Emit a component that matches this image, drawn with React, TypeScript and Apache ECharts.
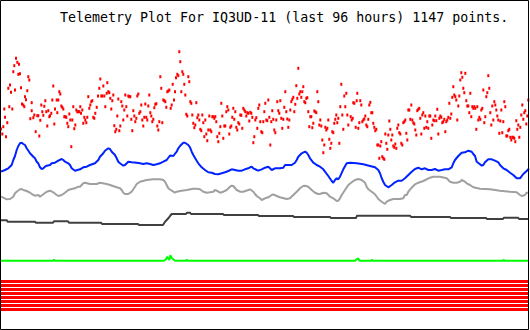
import React, { useEffect, useRef } from "react";
import * as echarts from "echarts";

const TITLE = "Telemetry Plot For IQ3UD-11 (last 96 hours) 1147 points.";

// x: sample position along the 96-hour window (plot units), y: plot units (inverted axis)
const redDots: [number, number][] = [
  [1,129],[2.3,134],[3.3,126.7],[4.3,109],[5,117.3],[6,136.7],[7.3,122.7],[8.3,88.3],[9.3,106.7],[10,85],[11,92.3],[12.3,109],[13.3,71.7],[14.3,65.7],[15,90],[16,58.3],[17.3,62.3],[18.3,74.3],[19,64.3],[20,73.7],
  [21,87.7],[22,104],[23.3,105],[24.3,106.7],[25,96.7],[26,99.7],[27.3,90.7],[28.3,76.7],[29.3,80],[30.3,118.7],[31.7,102.7],[31.7,110.7],[33.3,117.7],[34.3,115],[35.7,131.7],[37.3,115.7],[38.3,115.7],[39.3,136],[40.3,120.3],[41.3,105],
  [42.3,111.7],[43.3,115.3],[44.3,106.3],[45.3,100.7],[46.3,111.7],[47.3,126],[48.3,110.7],[49.3,116.7],[50,115.7],[51.3,113.3],[52.3,100],[53.3,86],[54.3,124],[55,109],[56.7,100],[57.3,112.7],[58.3,100],[59.3,91.7],[60.3,94],[61.3,106],
  [62.3,107.3],[63.3,109],[64.3,116.7],[65.3,116.7],[66.3,117.3],[67.3,123.3],[68.3,126.7],[69.3,114],[70.3,120],[71.3,146.7],[72.3,120],[73.3,106.7],[74.3,128.7],[75.3,125],[76.3,110],[77.3,111.7],[78.3,111.7],[79.3,111.7],[80.3,106.7],[81,113.3],
  [82.3,110],[83.3,123.3],[84.3,117.3],[85.3,120],[86.3,122.7],[87.3,117.3],[88.3,96.7],[89.3,108.3],[90.3,105],[91.3,101.7],[92.3,100.7],[93.3,117.3],[94.3,118.3],[95.3,113.3],[96.7,107.3],[98,96],[99.3,88.3],[100.3,79],[101.3,96],[102.3,96],
  [103.3,86],[104.3,96],[105.3,106.7],[106.7,93.3],[107.3,82.7],[108.3,91.7],[109.3,92.7],[110.3,98.3],[111.3,109],[112.3,100.7],[113.3,95],[114.3,125.7],[115.3,131.7],[116.3,129.3],[117.3,116],[118.3,99],[119.3,130.7],[120.3,126],[121.3,101.7],[122.3,106],
  [123.3,120],[124.3,110],[125.3,95],[126.3,106.7],[127.3,116],[128.3,96],[129.3,96.7],[130.3,96.7],[131.3,119.3],[132.3,130.7],[133.3,110.7],[134.3,116],[135.3,121.7],[136.3,118.3],[137.3,96],[138.3,94],[139.3,113.3],[140.3,111.7],[141.3,105],[142.3,120],
  [143.3,126],[144.3,117.3],[145.3,104],[146.3,117.3],[147.3,120],[148.3,106],[149.3,95],[150.3,112.7],[151.3,116],[152.3,121.7],[153.3,119.3],[154.3,107.7],[155.3,104.3],[156.3,103.7],[157.3,126],[158.3,130],[159.3,121.7],[160.3,76.7],[161.3,88.3],[162.3,122.7],
  [163.3,100],[164.3,100.7],[165.3,101.7],[166.3,107.3],[167.3,91.7],[168.3,91],[169.3,90],[170.7,108.3],[171.7,105],[172.7,84.3],[174,100],[175,91.7],[176,77.7],[177.3,74.3],[178.3,75.7],[179.3,51.7],[180.3,61.7],[181.3,91.7],[182.3,71.7],[183.3,74.3],
  [184.3,84.3],[185.3,95],[186.3,114.3],[187.3,116],[188.3,76.7],[189.3,81.7],[190.3,101.7],[191.3,103.3],[192.3,115],[193.3,123.3],[194.3,127.7],[195.3,125],[196.3,102.7],[197.3,117.7],[198.3,115],[199.3,120],[200.3,129.3],[201.3,130.7],[202.3,115],[203.3,122.7],
  [204.3,136.7],[205.3,120],[206.3,134],[207.3,140.7],[208.3,130],[209.3,116],[210.3,130],[211.3,131.7],[212.3,116.7],[213.3,116.7],[214.3,118.3],[215.3,116.7],[216.3,121.7],[217.3,136.7],[218.3,141.7],[219.3,133.3],[220.3,126.7],[221.3,103.3],[222.3,116],[223.3,138.3],
  [224.3,126],[225.3,126],[226.3,111.7],[227.3,106.7],[228.3,110],[229.3,134],[230.3,127.3],[231.3,126],[232.3,117.3],[233.3,108.3],[234.3,119.3],[235.3,111.7],[236.3,127.3],[237.3,130],[238.3,122.7],[239.3,124],[240.3,115],[241.3,115.3],[242.3,128.3],[243.3,108.3],
  [244.3,110],[245.3,111.7],[246.3,116],[247.3,112.7],[248.3,113.3],[249.3,121],[250.3,112.3],[251.3,113.3],[252.3,117.3],[253.3,142.7],[254.3,136.7],[255.3,120],[256.3,117.7],[257.3,128.3],[258.3,108.3],[259.3,105],[260.3,121.7],[261.3,131.7],[262.3,132.7],[263.3,121.7],
  [264.3,111.7],[265.3,103.3],[266.3,120],[267.3,120.7],[268.3,100],[269.3,117.3],[270.3,145],[271.3,121.7],[272.3,110.7],[273.3,119.3],[274.3,130],[275.3,132.7],[276.3,120],[277.3,101.7],[278.3,110.7],[279.3,113.3],[280.3,100.7],[281.3,118.3],[282.3,128.3],[283.3,119.3],
  [284.3,107.3],[285.3,91.7],[286.3,111.7],[287.3,119],[288.3,127.3],[289.3,120],[290.3,110],[291.3,101.7],[292.3,99.3],[293.3,97.3],[294.3,111.7],[295.3,104.3],[296.3,85.7],[297.3,98.3],[298.3,68.3],[299.3,94],[300.3,91.7],[301.3,97.3],[302.3,91.7],[303.3,86.7],
  [304.3,101.7],[305.3,102.7],[306.3,98.3],[307.3,97.7],[308.3,111.7],[309.3,126.7],[310.3,116.7],[311.3,116.7],[312.3,127.7],[313.3,123.3],[314.3,111],[315.3,111.7],[316.3,112.7],[317.3,91.7],[318.3,101.7],[319.3,125],[320.3,120],[321.3,126],[322.3,140],[323.3,152.7],
  [324.3,145],[325.3,127.3],[326.3,130],[327.3,128.3],[328.3,120],[329.3,139.3],[330.3,148.3],[331.3,143.3],[332.3,131.7],[333.3,132.7],[334.3,123.3],[335.3,119.3],[336.3,115],[337.3,122.7],[338.3,118.3],[339.3,143.3],[340.3,106.7],[341.3,84.3],[342.3,115],[343.3,129.3],
  [344.3,96],[345.3,106.7],[346.3,93.3],[347.3,115],[348.3,125],[350.7,116.7],[351.7,120],[352.7,118.3],[353.3,102.7],[354.3,103.3],[355.7,127.3],[356.7,100.7],[357.3,93.3],[358.3,128.3],[359.3,122.7],[360.3,100.7],[361.3,105],[362.3,121.7],[363.3,120],[364.3,119],
  [365.3,116],[366.3,125],[367.3,126.7],[368.3,119.3],[369.3,105],[370.3,102.3],[371.3,112.7],[372.3,112.7],[373.3,123.3],[374.3,127.3],[375.3,130.7],[376.3,129.3],[377.3,145],[378.3,145],[379.3,158.3],[380.3,146],[381.3,141.7],[382.3,156.7],[383.3,158.3],[384.3,159.3],
  [385.3,134],[386.3,143.3],[387.3,149.3],[388.3,135],[389.3,121],[390.3,129.3],[391.3,140],[392.3,135],[393.3,146],[394.3,147.3],[395.3,144],[396.3,148.3],[397.3,128.3],[398.3,125],[399.3,132.7],[400.3,134],[401.3,143.3],[402.3,145],[403.3,122.7],[404.3,121.7],
  [405.3,120],[406.3,133.3],[407.3,140],[408.3,110],[409.3,110],[410.3,119.3],[411.3,105],[412.3,120],[413.3,122.7],[414.3,124],[415.3,130],[416.3,135],[417.3,110.7],[418.3,109.3],[419.3,108.3],[420.3,118.3],[421.3,134],[422.3,115],[423.3,112.7],[424.3,128.3],
  [425.3,116],[426.3,127.3],[427.3,121.7],[428.3,128.3],[429.3,116],[430.3,116],[431.3,138.3],[432.3,125],[433.3,120],[434.3,120.7],[435.3,116],[436.3,120.7],[437.3,109.3],[438.3,134],[439.3,118.3],[440.3,116],[441.3,117.3],[442.3,122.7],[443.3,121.7],[444.3,119.3],
  [445.3,131.7],[446.3,121.7],[447.3,120],[448.3,117.3],[449.3,103.3],[450.3,118.3],[451.3,114],[452.3,97.3],[453.3,86.7],[454.3,95],[455.3,96.7],[456.3,100],[457.3,120],[458.3,106],[459.3,96],[460.3,80],[461.3,72.7],[462.3,77.3],[463.3,88.3],[464.3,92.7],
  [465.3,73.3],[466.3,100.7],[467.3,106],[468.3,106],[469.3,112.7],[470.3,93.3],[471.3,116.7],[472.3,106.7],[473.3,108.3],[474.3,106.7],[475.3,108.3],[476.3,129.3],[477.3,106.7],[478.3,120],[479.3,117.3],[480.3,119.3],[481.3,110],[482.3,108.3],[483.3,90],[484.3,122.7],
  [485.3,116.7],[486.3,96.7],[487.3,92.7],[488.3,75.7],[489.3,88.3],[490.3,112.7],[491.3,125],[492.3,106],[493.3,120],[494.3,101.7],[495.3,105],[496.3,110],[497.3,116],[498.3,120],[499.3,133.3],[500.3,121],[501.3,110],[502.3,132.7],[503.3,121.7],[504.3,101.7],
  [505.3,106.7],[506.3,136],[507.3,136],[508.3,130.7],[509.3,129.3],[510.3,137.3],[511.3,140],[512.3,137.3],[513.3,137.3],[514.3,138.3],[515.3,141.7],[516.3,120.7],[517.3,129.3],[518.3,125],[519.3,137.3],[520.3,127.3],[521.3,115],[522.3,105],[523.3,119.3],[524.3,112.7],
  [525.3,110.7],[526.3,124],[527.3,116],[528.3,100]
];

const blueLine: [number, number][] = [
  [1,171.7],[5,170],[8.3,168.3],[11.7,165],[13.3,160],[15,156],[16.7,150],[18.3,146],[20,143.3],[21.7,142.7],[23.3,144],[25,145],[26.7,148.3],[30,153.3],[31.7,155],[33.3,156.7],[35,158.3],[36.7,161.7],[38.3,163.3],[40,167.3],
  [41.7,169],[43.3,168.3],[45,166.7],[46.7,165.7],[50,165],[51.7,163.3],[55,162.7],[58.3,160.7],[61.7,159],[63.3,160],[65,161.7],[68.3,163.3],[70,165],[71.7,168.3],[75,170.7],[80,169.3],[83.3,167.3],[86.7,166.7],[90,165],[95,163.3],
  [98.3,160],[100,156.7],[103.3,153.3],[105,150.7],[108.3,148.3],[110,149],[111.7,151.7],[115,155],[116.7,158.3],[118.3,161.7],[120,163.3],[123.3,165.7],[125,165],[128.3,161.7],[131.7,162.3],[136.7,162.7],[140,163.3],[143.3,164],[146.7,163.3],[150,164],
  [153.3,165],[156.7,164.3],[160,163.3],[163.3,161.7],[166.7,160],[170,155.5],[173.3,156],[176.7,151.7],[178.3,148.3],[180,146],[183.3,142.7],[185,142.7],[188.3,145],[190,147.3],[191.7,151.7],[193.3,155],[196.7,160.7],[198.3,163.3],[201.7,167.3],[205,170],
  [208.3,172.3],[211.7,172.7],[215,174],[218.3,174.3],[221.7,173.3],[225,172.3],[228.3,171],[231.7,169.3],[235,170],[238.3,170.7],[241.7,170.7],[245,169.3],[248.3,168.3],[250,167.3],[251.7,166.7],[253.3,168.3],[256.7,170],[258.3,170.7],[261.7,169.3],[265,167.7],
  [268.3,166.7],[270,168.3],[271.7,170],[275,168.3],[280,168.3],[283.3,167.7],[285,165],[288.3,165],[291.7,165],[295,162.7],[296.7,160],[298.3,156.7],[301.7,153.3],[305,151.7],[306.7,152.7],[308.3,155],[310,158.3],[313.3,162.7],[316.7,165],[320,166.7],
  [323.3,169.3],[325,171.7],[328.3,176],[331.7,181],[333.3,182.7],[335,180],[336.7,178.3],[338.3,179.3],[340,176.7],[343.3,169.3],[346.7,163.3],[350,162.7],[356.7,163.3],[363.3,164.3],[370,166],[375,167.3],[378.3,170],[380,173.3],[381.7,178.3],[383.3,181.7],
  [385,185],[388.3,187.3],[391.7,185],[395,182.3],[398.3,180.7],[401.7,180.7],[405,178.3],[408.3,175],[411.7,171.7],[415,169],[418.3,167.7],[421.7,169.3],[425,168.3],[428.3,170],[431.7,170],[435,169],[438.3,170.7],[441.7,170],[445,169.3],[448.3,169.3],
  [451.7,167.3],[453.3,163.3],[455,160],[458.3,156],[461.7,152.7],[465,152.3],[468.3,150.7],[471.7,151.7],[473.3,154],[475,156],[476.7,161.7],[480,164.3],[481.7,165.7],[483.3,165],[485,162.3],[488.3,159.3],[491.7,159.3],[495,160.7],[498.3,162.3],[500,165],
  [503.3,168.3],[506.7,170],[510,172.7],[513.3,175],[516.7,178.3],[520,178.3],[523.3,174],[526.7,171],[529,168.5]
];

const grayLine: [number, number][] = [
  [1,196.7],[3.3,197.7],[6.7,199.3],[10,199],[13.3,196.7],[15,193.3],[16.7,191.7],[20,189.3],[21.7,189],[23.3,190],[26.7,191],[30,192.7],[33.3,195],[35,195.7],[38.3,195],[40,196.7],[43.3,194.3],[46.7,191.7],[50,190.7],[53.3,192.3],
  [56.7,195],[58.3,196],[61.7,195],[65,192.7],[68.3,190],[71.7,189],[75,188.3],[78.3,186.7],[80,186.7],[83.3,183.3],[85,182.7],[90,184],[96.7,184],[100,182.7],[106.7,184],[110,185],[116.7,187.3],[120,188.3],[121.7,190],[123.3,192.7],
  [125,194],[128.3,194],[131.7,191.7],[133.3,189.3],[135,186.7],[136.7,184],[140,181.7],[146.7,180],[153.3,179.3],[160,179.3],[163.3,180],[165,181.7],[166.7,185],[168.3,188.3],[170,189.5],[173.3,191.7],[175,192.7],[176.7,191.7],[180,191],[186.7,190],
  [193.3,188.7],[196.7,188.7],[200,189.3],[203.3,191.7],[206.7,192.7],[210,192.3],[213.3,191.7],[215,190],[216.7,190.7],[220,192.7],[223.3,191.7],[226.7,190],[230,186.7],[231.7,185.7],[233.3,186],[236.7,190],[240,191.7],[243.3,191.7],[248.3,190],[250,189.3],
  [253.3,191.7],[255,194],[256.7,196],[260,198.3],[261.7,200],[265,198.3],[268.3,197.3],[271.7,195],[273.3,194.3],[276.7,196],[280,197.3],[286.7,199],[290,198.3],[293.3,195],[296.7,191.7],[300,188.3],[303.3,186],[305,185.7],[308.3,186.7],[311.7,190],
  [315,192.7],[318.3,194],[320,194],[323.3,192.7],[326.7,193.3],[330,196.7],[333.3,198.3],[336.7,201],[338.3,200.7],[340,198.3],[341.7,195],[345,190],[348.3,185],[351.7,182.3],[355,180],[358.3,179],[361.7,180],[365,182.7],[366.7,186.7],[368.3,189.3],
  [371.7,191.7],[375,194.3],[378.3,199],[381.7,201.7],[385,204],[386.7,201.7],[390,200],[393.3,199],[396.7,199],[400,199],[403.3,198.3],[405,195],[406.7,195],[408.3,191.7],[411.7,187.7],[415,184.3],[418.3,182.7],[423.3,181],[430,177.7],[433.3,176.7],
  [440,176.7],[446.7,178.3],[450,181.7],[453.3,182.7],[456.7,182.7],[460,181.7],[461.7,180],[465,181.7],[466.7,183.3],[470,185],[473.3,187.3],[480,188.7],[490,189.3],[500,190.7],[510,191.7],[516.7,192.3],[520,195],[521.7,196],[525,195],[526.7,192.7],
  [529,192.7]
];

const blackLine: [number, number][] = [
  [1,220.3],[7,220.3],[7.5,221.7],[35,221.7],[36,222.7],[53,222.7],[54,221.3],[68,221.3],[69,222.7],[101,222.7],[102,224],[138,224],[139,225],[163,225],[165,221.7],[166.7,220],[168.3,218.3],[170,216],[171.7,214],[186,214],
  [187,212.7],[190,212.7],[191,214],[223,214],[224,215],[258,215],[259,216],[293,216],[294,217],[330,217],[331,218],[356,218],[357,215.7],[410,215.7],[411,217],[450,217],[451,218],[486,218],[487,219],[503,219],
  [504,217.7],[518,217.7],[519,219],[529,219]
];

const greenLine: [number, number][] = [
  [1,260.7],[53,260.7],[54,259.7],[55,260.7],[164,260.7],[166,259.3],[167.3,256.7],[168.3,258.7],[169.3,260],[170.3,255.3],[171.7,258],[173.3,259.3],[175,260.7],[186,260.7],[186.7,259.5],[187.5,260.7],[355,260.7],[356.7,259.3],[358.3,258.3],[359.3,260.7],
  [371,260.7],[371.7,259.7],[372.5,260.7],[503,260.7],[503.5,259.7],[504.5,260.7],[529,260.7]
];

const bandLevels: number[] = [281.5, 285.5, 289.5, 293.5, 297.5, 301.5, 305.5, 309.5];
const bandStart = 1;
const bandEnd = 529;

export default function App() {
  const ref = useRef<HTMLDivElement>(null);

  useEffect(() => {
    document.body.style.margin = "0";
    const chart = echarts.init(ref.current!, null, { renderer: "svg" });

    const lineSeries = (data: [number, number][], color: string, width: number) => ({
      type: "line",
      data,
      showSymbol: false,
      symbol: "none",
      silent: true,
      lineStyle: { color, width },
    });

    chart.setOption({
      animation: false,
      backgroundColor: "#ffffff",
      grid: { left: 0, right: 0, top: 0, bottom: 0 },
      xAxis: { type: "value", min: 0, max: 530, show: false },
      yAxis: { type: "value", min: 0, max: 330, inverse: true, show: false },
      graphic: [
        {
          type: "text",
          x: 60,
          y: 17,
          z: 50,
          style: {
            text: TITLE,
            font: '13.3px "DejaVu Sans Mono", monospace',
            fill: "#000000",
            verticalAlign: "middle",
            align: "left",
          },
        },
        {
          type: "rect",
          z: 100,
          shape: { x: 0.5, y: 0.5, width: 528, height: 329 },
          style: { fill: "none", stroke: "#000000", lineWidth: 1 },
        },
      ],
      series: [
        {
          type: "scatter",
          data: redDots,
          symbol: "rect",
          symbolSize: [2, 3],
          silent: true,
          itemStyle: { color: "#ff0000", opacity: 1 },
        },
        lineSeries(blueLine, "#0022ff", 2),
        lineSeries(grayLine, "#a0a0a0", 2),
        lineSeries(blackLine, "#404040", 2),
        lineSeries(greenLine, "#00ff00", 2),
        ...bandLevels.map((y) =>
          lineSeries([[bandStart, y], [bandEnd, y]], "#ff0000", 3)
        ),
      ],
    });

    return () => chart.dispose();
  }, []);

  return <div ref={ref} style={{ width: 530, height: 330, background: "#ffffff" }} />;
}
